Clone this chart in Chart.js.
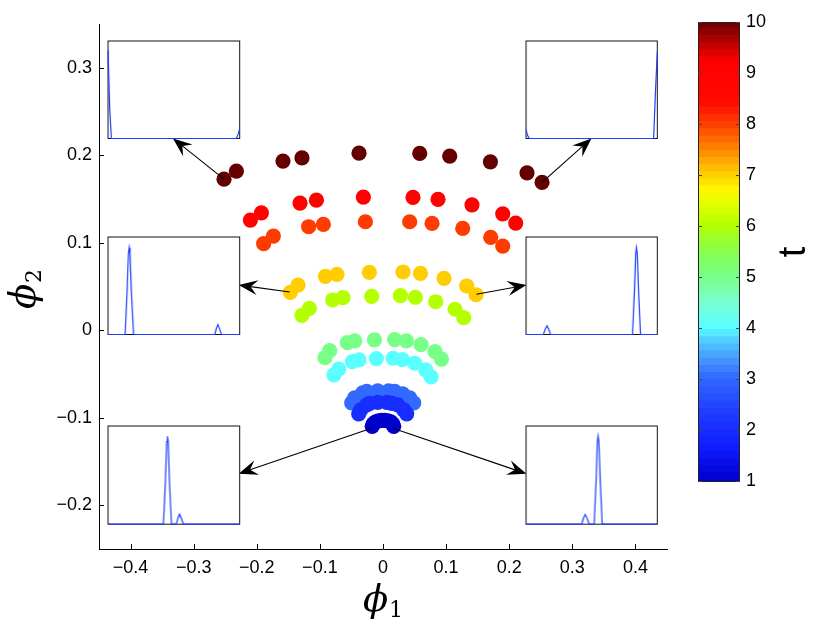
<!DOCTYPE html>
<html lang="en">
<head>
<meta charset="UTF-8">
<title>phi1 / phi2 scatter with insets</title>
<script src="https://cdn.jsdelivr.net/npm/chart.js"></script>
<style>
  body { margin: 0; background: #fff; }
  #wrap { position: relative; width: 830px; height: 627px; overflow: hidden; }
  .box { position: absolute; }
</style>
</head>
<body>
<div id="wrap">
  <div class="box" style="left:0;top:0;width:830px;height:627px"><canvas id="main"></canvas></div>
  <div class="box" style="left:680px;top:0;width:150px;height:627px"><canvas id="cbar"></canvas></div>
</div>
<script>
// ---- data: one ring of points [phi1, phi2] per time t ----
const times = [1, 2, 3, 4, 5, 6, 7, 8, 9, 10];
const ring1 = [[-0.0171,-0.1098],[-0.0155,-0.1070],[-0.0116,-0.1047],[-0.0068,-0.1035],[-0.0021,-0.1030],
               [0.0027,-0.1030],[0.0074,-0.1035],[0.0122,-0.1047],[0.0154,-0.1070],[0.0170,-0.1098]];
const ring2 = [[-0.0385,-0.0955],[-0.0353,-0.0910],[-0.0258,-0.0853],[-0.0211,-0.0836],[-0.0084,-0.0824],
               [0.0059,-0.0824],[0.0138,-0.0836],[0.0233,-0.0853],[0.0328,-0.0910],[0.0376,-0.0955]];
const ring3 = [[-0.0496,-0.0830],[-0.0449,-0.0773],[-0.0322,-0.0716],[-0.0258,-0.0699],[-0.0084,-0.0693],
               [0.0090,-0.0693],[0.0185,-0.0699],[0.0312,-0.0727],[0.0423,-0.0773],[0.0487,-0.0830]];
const ring4 = [[-0.0777,-0.0510],[-0.0702,-0.0445],[-0.0485,-0.0358],[-0.0380,-0.0339],[-0.0105,-0.0324],
               [0.0158,-0.0320],[0.0307,-0.0336],[0.0502,-0.0377],[0.0677,-0.0453],[0.0761,-0.0533]];
const ring5 = [[-0.0919,-0.0313],[-0.0845,-0.0233],[-0.0564,-0.0142],[-0.0449,-0.0122],[-0.0136,-0.0111],
               [0.0185,-0.0107],[0.0371,-0.0122],[0.0602,-0.0164],[0.0824,-0.0244],[0.0926,-0.0331]];
const ring6 = [[-0.1284,0.0171],[-0.1166,0.0251],[-0.0797,0.0346],[-0.0634,0.0372],[-0.0179,0.0388],
               [0.0276,0.0395],[0.0513,0.0377],[0.0835,0.0326],[0.1141,0.0240],[0.1279,0.0144]];
const ring7 = [[-0.1468,0.0434],[-0.1347,0.0517],[-0.0913,0.0616],[-0.0729,0.0639],[-0.0216,0.0662],
               [0.0317,0.0666],[0.0593,0.0651],[0.0967,0.0594],[0.1326,0.0506],[0.1474,0.0406]];
const ring8 = [[-0.1891,0.0989],[-0.1737,0.1076],[-0.1178,0.1183],[-0.0945,0.1210],[-0.0279,0.1240],
               [0.0423,0.1240],[0.0777,0.1221],[0.1263,0.1164],[0.1707,0.1062],[0.1897,0.0962]];
const ring9 = [[-0.2101,0.1259],[-0.1927,0.1342],[-0.1315,0.1453],[-0.1055,0.1487],[-0.0311,0.1522],
               [0.0475,0.1518],[0.0872,0.1495],[0.1410,0.1434],[0.1897,0.1331],[0.2103,0.1225]];
const ring10 = [[-0.2519,0.1727],[-0.2323,0.1818],[-0.1585,0.1933],[-0.1284,0.1970],[-0.0380,0.2024],
                [0.0582,0.2021],[0.1057,0.1990],[0.1702,0.1925],[0.2282,0.1799],[0.2520,0.1689]];
const rings = [ring1, ring2, ring3, ring4, ring5, ring6, ring7, ring8, ring9, ring10];

const xTicks = [-0.4, -0.3, -0.2, -0.1, 0, 0.1, 0.2, 0.3, 0.4];
const yTicks = [-0.2, -0.1, 0, 0.1, 0.2, 0.3];
const cbarTicks = [1, 2, 3, 4, 5, 6, 7, 8, 9, 10];

// inset profiles [position, value], all on 0..1
const insetTL = [[0,0.905],[0.013,0.3],[0.026,0],[0.974,0],[0.99,0.05],[1,0.102]];
const insetTR = [[0,0.092],[0.012,0.03],[0.025,0],[0.972,0],[0.985,0.45],[1,0.887]];
const insetML = [[0,0],[0.13,0],[0.145,0.45],[0.155,0.83],[0.161,0.891],[0.167,0.83],[0.177,0.45],[0.194,0],
                 [0.811,0],[0.822,0.06],[0.834,0.102],[0.846,0.06],[0.862,0],[1,0]];
const insetMR = [[0,0],[0.133,0],[0.146,0.055],[0.16,0.09],[0.173,0.055],[0.186,0],
                 [0.811,0],[0.826,0.45],[0.835,0.83],[0.841,0.891],[0.847,0.83],[0.857,0.45],[0.872,0],[1,0]];
const insetBL = [[0,0],[0.421,0],[0.436,0.45],[0.445,0.84],[0.451,0.895],[0.457,0.84],[0.466,0.45],[0.482,0],
                 [0.518,0],[0.531,0.06],[0.543,0.102],[0.556,0.06],[0.572,0],[1,0]];
const insetBR = [[0,0],[0.424,0],[0.437,0.06],[0.45,0.098],[0.465,0.06],[0.481,0],
                 [0.519,0],[0.534,0.45],[0.543,0.84],[0.549,0.898],[0.555,0.84],[0.565,0.45],[0.58,0],[1,0]];

// colour map stops (t -> rgb)
const cmapT = [1, 1.6, 2.3, 3, 3.35, 3.7, 4, 4.5, 5, 5.5, 6, 6.4, 6.7, 7, 7.5, 8, 8.4, 9.2, 9.6, 10];
const cmapRGB = [[0,0,205],[15,25,255],[30,60,255],[50,105,255],[70,150,255],[80,200,255],[90,255,255],
                 [120,255,205],[120,255,135],[135,255,75],[180,255,0],[225,255,0],[255,245,0],[255,205,0],
                 [255,130,0],[255,60,0],[255,10,0],[255,0,0],[180,0,0],[100,0,0]];

// ---- layout of the annotations (in phi1/phi2 coordinates) ----
const insets = [
  { data: insetTL, x: [-0.4358, -0.2287], y: [0.2192, 0.3306] },
  { data: insetTR, x: [0.2273, 0.4338], y: [0.2192, 0.3306] },
  { data: insetML, x: [-0.4358, -0.2287], y: [-0.0046, 0.1068] },
  { data: insetMR, x: [0.2273, 0.4338], y: [-0.0046, 0.1068] },
  { data: insetBL, x: [-0.4358, -0.2287], y: [-0.2211, -0.1089] },
  { data: insetBR, x: [0.2273, 0.4338], y: [-0.2211, -0.1089] }
];
const arrows = [
  [-0.2519, 0.1727, -0.3328, 0.2192],
  [0.2520, 0.1689, 0.3303, 0.2192],
  [-0.1479, 0.0437, -0.2287, 0.0517],
  [0.1480, 0.0411, 0.2273, 0.0517],
  [-0.0184, -0.1119, -0.2287, -0.1640],
  [0.0158, -0.1119, 0.2273, -0.1640]
];

function cmap(t) {
  let i = 0;
  while (i < cmapT.length - 2 && t > cmapT[i + 1]) i++;
  const f = Math.min(1, Math.max(0, (t - cmapT[i]) / (cmapT[i + 1] - cmapT[i])));
  const c = cmapRGB[i].map((v, k) => Math.round(v + (cmapRGB[i + 1][k] - v) * f));
  return `rgb(${c[0]},${c[1]},${c[2]})`;
}
const fmt = v => v === 0 ? '0' : (v < 0 ? '\u2212' : '') + Math.abs(v).toFixed(1);
const tickFont = { family: "'Liberation Sans', Arial, sans-serif", size: 18 };

function drawArrow(ctx, x0, y0, x1, y1) {
  const L = Math.hypot(x1 - x0, y1 - y0), ux = (x1 - x0) / L, uy = (y1 - y0) / L;
  const px = -uy, py = ux, hl = 19, hw = 7.5, notch = 12;
  ctx.beginPath(); ctx.moveTo(x0, y0); ctx.lineTo(x1 - ux * notch, y1 - uy * notch); ctx.stroke();
  ctx.beginPath();
  ctx.moveTo(x1, y1);
  ctx.lineTo(x1 - ux * hl + px * hw, y1 - uy * hl + py * hw);
  ctx.lineTo(x1 - ux * notch, y1 - uy * notch);
  ctx.lineTo(x1 - ux * hl - px * hw, y1 - uy * hl - py * hw);
  ctx.closePath(); ctx.fill();
}

// phi with an upright subscript, centred on (0,0) of the current transform
function drawPhi(ctx, sub) {
  ctx.font = "italic 37px 'DejaVu Serif', serif";
  const w1 = ctx.measureText('\u03d5').width;
  ctx.font = "22px 'DejaVu Serif', serif";
  const w2 = ctx.measureText(sub).width;
  const x0 = -(w1 + w2 + 1) / 2;
  ctx.textAlign = 'left'; ctx.textBaseline = 'alphabetic';
  ctx.font = "italic 37px 'DejaVu Serif', serif";
  ctx.fillText('\u03d5', x0, 10);
  ctx.font = "22px 'DejaVu Serif', serif";
  ctx.fillText(sub, x0 + w1 + 1, 16);
}

const mainDecor = {
  id: 'mainDecor',
  afterDatasetsDraw(chart) {
    const { ctx, scales: { x, y } } = chart;
    ctx.save();
    ctx.strokeStyle = '#000'; ctx.fillStyle = '#000'; ctx.lineWidth = 1.1;
    arrows.forEach(a => drawArrow(ctx, x.getPixelForValue(a[0]), y.getPixelForValue(a[1]),
                                      x.getPixelForValue(a[2]), y.getPixelForValue(a[3])));
    ctx.restore();
  },
  afterDraw(chart) {
    const { ctx, chartArea: ca, scales: { x, y } } = chart;
    ctx.save();
    ctx.strokeStyle = '#000'; ctx.lineWidth = 1;
    ctx.beginPath();
    xTicks.forEach(v => { const p = Math.round(x.getPixelForValue(v)) + 0.5; ctx.moveTo(p, ca.bottom); ctx.lineTo(p, ca.bottom - 5); });
    yTicks.forEach(v => { const p = Math.round(y.getPixelForValue(v)) + 0.5; ctx.moveTo(ca.left, p); ctx.lineTo(ca.left + 5, p); });
    ctx.stroke();
    // axis titles
    ctx.fillStyle = '#000';
    ctx.save();
    ctx.translate((ca.left + ca.right) / 2, 601);
    drawPhi(ctx, '1');
    ctx.restore();
    ctx.save();
    ctx.translate(25, 289); ctx.rotate(-Math.PI / 2);
    drawPhi(ctx, '2');
    ctx.restore();
    ctx.restore();
  }
};

const mainChart = new Chart(document.getElementById('main'), {
  type: 'scatter',
  data: {
    datasets: rings.map((r, i) => ({
      label: 't = ' + times[i],
      data: r.map(([px, py]) => ({ x: px, y: py })),
      backgroundColor: cmap(times[i]),
      borderWidth: 0,
      pointRadius: 7.6,
      pointHoverRadius: 7.6
    }))
  },
  options: {
    responsive: true, maintainAspectRatio: false, animation: false,
    layout: { padding: { top: 24, right: 163, left: 0, bottom: 0 } },
    plugins: { legend: { display: false }, tooltip: { enabled: false } },
    scales: {
      x: {
        type: 'linear', min: -0.45, max: 0.45,
        afterBuildTicks: s => { s.ticks = xTicks.map(v => ({ value: v })); },
        afterFit: s => { s.height = 78; },
        ticks: { callback: v => fmt(v), font: tickFont, color: '#000', padding: 8, maxRotation: 0 },
        grid: { display: false, drawTicks: false },
        border: { display: true, color: '#000', width: 1 }
      },
      y: {
        type: 'linear', min: -0.25, max: 0.35,
        afterBuildTicks: s => { s.ticks = yTicks.map(v => ({ value: v })); },
        afterFit: s => { s.width = 99; },
        ticks: { callback: v => fmt(v), font: tickFont, color: '#000', padding: 7 },
        grid: { display: false, drawTicks: false },
        border: { display: true, color: '#000', width: 1 }
      }
    }
  },
  plugins: [mainDecor]
});

// ---- insets, placed from the main chart's scales ----
const insetBox = {
  id: 'insetBox',
  beforeDatasetsDraw(chart) {
    const { ctx, chartArea: ca } = chart;
    ctx.save();
    ctx.fillStyle = '#fff';
    ctx.fillRect(ca.left, ca.top, ca.right - ca.left, ca.bottom - ca.top);
    ctx.strokeStyle = '#111'; ctx.lineWidth = 1;
    ctx.strokeRect(ca.left, ca.top, ca.right - ca.left, ca.bottom - ca.top);
    ctx.restore();
  }
};
const wrap = document.getElementById('wrap');
insets.forEach(ins => {
  const sx = mainChart.scales.x, sy = mainChart.scales.y;
  const l = sx.getPixelForValue(ins.x[0]), r = sx.getPixelForValue(ins.x[1]);
  const t = sy.getPixelForValue(ins.y[1]), b = sy.getPixelForValue(ins.y[0]);
  const div = document.createElement('div');
  div.className = 'box';
  div.style.cssText = `left:${l - 2}px;top:${t - 2}px;width:${r - l + 4}px;height:${b - t + 4}px`;
  const cv = document.createElement('canvas');
  div.appendChild(cv); wrap.appendChild(div);
  new Chart(cv, {
    type: 'line',
    data: { datasets: [{ data: ins.data.map(([px, py]) => ({ x: px, y: py })), borderColor: 'rgb(30,60,255)',
                         borderWidth: 1.2, pointRadius: 0, tension: 0, clip: false }] },
    options: {
      responsive: true, maintainAspectRatio: false, animation: false,
      layout: { padding: 2 },
      plugins: { legend: { display: false }, tooltip: { enabled: false } },
      scales: { x: { type: 'linear', min: 0, max: 1, display: false }, y: { min: 0, max: 1, display: false } }
    },
    plugins: [insetBox]
  });
});

// ---- colour bar ----
const cbarLevels = 64, cbarMin = 1, cbarMax = 10;
const bands = [];
for (let i = 0; i < cbarLevels; i++) {
  const lo = cbarMin + (cbarMax - cbarMin) * i / cbarLevels, hi = cbarMin + (cbarMax - cbarMin) * (i + 1) / cbarLevels;
  bands.push({ lo, hi, color: cmap((lo + hi) / 2) });
}
const cbarDecor = {
  id: 'cbarDecor',
  afterDraw(chart) {
    const { ctx, chartArea: ca, scales: { y } } = chart;
    ctx.save();
    ctx.strokeStyle = '#222'; ctx.lineWidth = 1;
    ctx.strokeRect(ca.left + 0.5, ca.top + 0.5, ca.right - ca.left - 1, ca.bottom - ca.top);
    ctx.strokeStyle = '#444';
    ctx.beginPath();
    cbarTicks.forEach(v => {
      const p = Math.round(y.getPixelForValue(v)) + 0.5;
      ctx.moveTo(ca.left, p); ctx.lineTo(ca.left + 4, p);
      ctx.moveTo(ca.right, p); ctx.lineTo(ca.right - 4, p);
    });
    ctx.stroke();
    ctx.fillStyle = '#000';
    ctx.font = "38px 'Liberation Sans', Arial, sans-serif";
    ctx.textAlign = 'center'; ctx.textBaseline = 'middle';
    ctx.translate(115, 252); ctx.rotate(-Math.PI / 2);
    ctx.fillText('t', 0, 0);
    ctx.restore();
  }
};
new Chart(document.getElementById('cbar'), {
  type: 'bar',
  data: {
    labels: ['t'],
    datasets: bands.map(bd => ({ data: [[bd.lo, bd.hi + 0.02]], backgroundColor: bd.color, borderWidth: 0,
                                 grouped: false, barPercentage: 1, categoryPercentage: 1 }))
  },
  options: {
    responsive: true, maintainAspectRatio: false, animation: false,
    layout: { padding: { left: 18, top: 22, bottom: 146, right: 0 } },
    plugins: { legend: { display: false }, tooltip: { enabled: false } },
    scales: {
      x: { display: false },
      y: {
        position: 'right', min: cbarMin, max: cbarMax,
        afterBuildTicks: s => { s.ticks = cbarTicks.map(v => ({ value: v })); },
        afterFit: s => { s.width = 90; },
        ticks: { font: tickFont, color: '#000', padding: 6 },
        grid: { display: false, drawTicks: false },
        border: { display: false }
      }
    }
  },
  plugins: [cbarDecor]
});
</script>
</body>
</html>
